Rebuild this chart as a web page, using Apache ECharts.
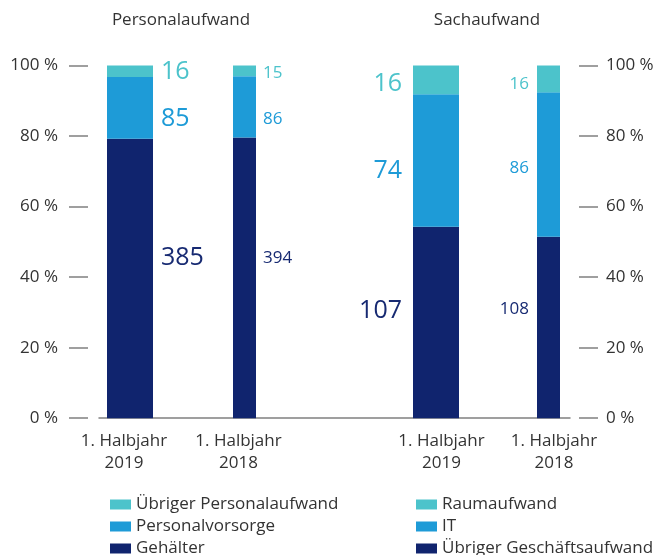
<!DOCTYPE html>
<html><head><meta charset="utf-8">
<script src="https://cdn.jsdelivr.net/npm/echarts@6/dist/echarts.min.js"></script>
<style>html,body{margin:0;padding:0;background:#fff}#c{width:660px;height:555px}</style>
</head><body><div id="c"></div>
<script>
// ---- data ----
const periods = ['1. Halbjahr\n2019', '1. Halbjahr\n2018'];
const titles = ['Personalaufwand', 'Sachaufwand'];
const personalNames = ['Gehälter', 'Personalvorsorge', 'Übriger Personalaufwand'];
const personal2019 = [385, 85, 16];
const personal2018 = [394, 86, 15];
const sachNames = ['Übriger Geschäftsaufwand', 'IT', 'Raumaufwand'];
const sach2019 = [107, 74, 16];
const sach2018 = [108, 86, 16];
const percentMin = 0, percentMax = 100, percentStep = 20;

// ---- style ----
const colors = ['#10246e', '#1e9bd7', '#4cc3cb'];
const labelColors = ['#172a72', '#1e9bd7', '#4cc3cb'];
const FONT = 'Open Sans';
const FS = 17;
const TXT = '#333333';
const AX = '#808080';
// vertical nudges of value labels (px), per side / period / segment
const labelNudge = {
  left: [[-21, 11, 1], [-20, 12, 2]],
  right: [[-12, 10, 4], [-18, 4, 5]]
};

function buildSeries(names, values, periodIdx, xAxisIndex, yAxisIndex, side) {
  const total = values.reduce((a, b) => a + b, 0);
  const wide = periodIdx === 0;
  const stack = side + '_' + periodIdx;
  return values.map((v, i) => {
    const item = { value: v / total * 100, raw: v, label: { offset: [0, labelNudge[side][periodIdx][i]] } };
    const data = periodIdx === 0 ? [item, '-'] : ['-', item];
    return {
      type: 'bar', name: names[i], stack: stack,
      xAxisIndex: xAxisIndex, yAxisIndex: yAxisIndex,
      barWidth: wide ? 46 : 23,
      data: data,
      itemStyle: { color: colors[i] },
      label: {
        show: true,
        position: side === 'left' ? 'right' : 'left',
        distance: side === 'left' ? (wide ? 8 : 7) : (wide ? 11 : 8),
        fontFamily: FONT, fontSize: wide ? 25 : 17,
        color: labelColors[i],
        formatter: p => String(p.data.raw)
      },
      emphasis: { disabled: true },
      silent: true
    };
  });
}

const hiddenCat = (grid) => ({ type: 'category', gridIndex: grid, data: periods, show: false });
const labelCat = (grid, pad) => ({
  type: 'category', gridIndex: grid, data: periods,
  axisLine: { show: false }, axisTick: { show: false },
  axisLabel: { fontFamily: FONT, fontSize: FS, lineHeight: 22, color: TXT, margin: 12, padding: pad }
});
const hiddenVal = (grid) => ({ type: 'value', gridIndex: grid, min: percentMin, max: percentMax, show: false });
const tickVal = (pos, offset, margin) => ({
  type: 'value', gridIndex: 2, position: pos, offset: offset,
  min: percentMin, max: percentMax, interval: percentStep,
  axisLine: { show: false },
  axisTick: { show: true, length: 19, lineStyle: { color: AX, width: 1.5 } },
  splitLine: { show: false },
  axisLabel: { margin: margin, fontFamily: FONT, fontSize: FS, color: TXT, formatter: '{value} %' }
});

const legendBase = {
  orient: 'vertical', top: 496, height: 70, padding: 0,
  itemWidth: 21, itemHeight: 10, itemGap: 5,
  icon: 'rect', selectedMode: false,
  textStyle: { fontFamily: FONT, fontSize: FS, color: TXT, lineHeight: 17 }
};

const option = {
  animation: false,
  grid: [
    { left: 72.75, width: 229, top: 65.5, height: 352.7 },
    { left: 379.75, width: 225, top: 65.5, height: 352.7 },
    { left: 99, width: 471, top: 65.5, height: 352.7 }
  ],
  xAxis: [
    labelCat(0, [0, 12, 0, 0]), hiddenCat(0),
    labelCat(1, [0, 0, 0, 11]), hiddenCat(1),
    { type: 'category', gridIndex: 2, data: [], axisLine: { show: true, lineStyle: { color: AX, width: 1.5 } },
      axisTick: { show: false }, axisLabel: { show: false } }
  ],
  yAxis: [hiddenVal(0), hiddenVal(1), tickVal('left', 11, 30), tickVal('right', 9, 27)],
  legend: [
    Object.assign({}, legendBase, { left: 110, data: personalNames.slice().reverse() }),
    Object.assign({}, legendBase, { left: 416, data: sachNames.slice().reverse() })
  ],
  graphic: [
    { type: 'text', x: 181, y: 20, style: { text: titles[0], font: FS + 'px "' + FONT + '"', fill: TXT, textAlign: 'center', textVerticalAlign: 'middle' } },
    { type: 'text', x: 487, y: 20, style: { text: titles[1], font: FS + 'px "' + FONT + '"', fill: TXT, textAlign: 'center', textVerticalAlign: 'middle' } }
  ],
  series: [].concat(
    buildSeries(personalNames, personal2019, 0, 0, 0, 'left'),
    buildSeries(personalNames, personal2018, 1, 1, 0, 'left'),
    buildSeries(sachNames, sach2019, 0, 2, 1, 'right'),
    buildSeries(sachNames, sach2018, 1, 3, 1, 'right')
  )
};

const chart = echarts.init(document.getElementById('c'), null, { renderer: 'canvas' });
chart.setOption(option);
</script>
</body></html>
